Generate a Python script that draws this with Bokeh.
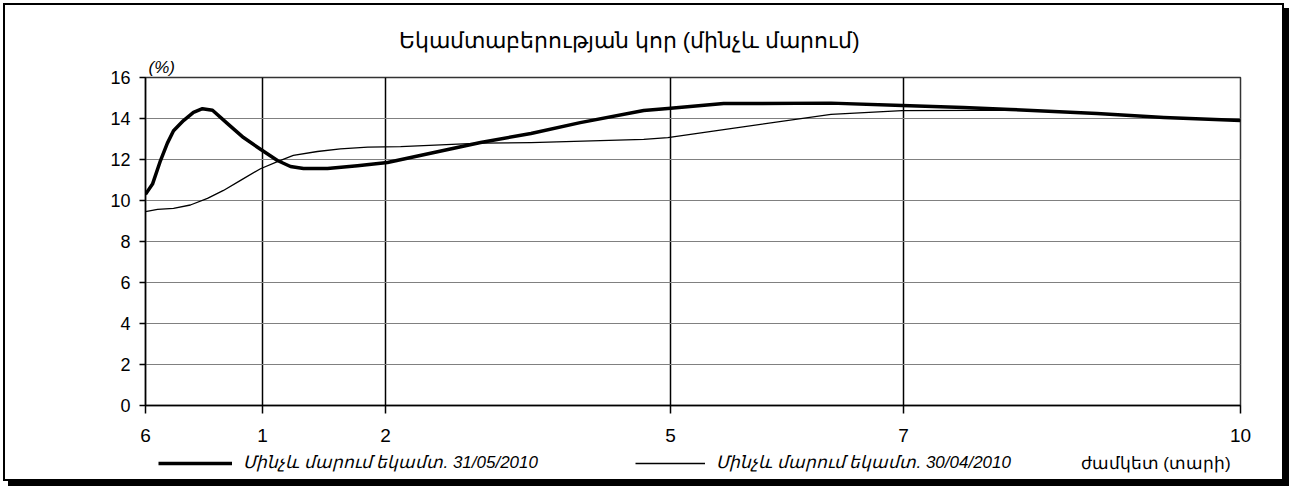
from bokeh.plotting import figure
from bokeh.layouts import column
from bokeh.models import Range1d, FixedTicker, Legend, LegendItem, Title, Label
from bokeh.embed import file_html
from bokeh.resources import INLINE

# ---- data ----
TITLE = "Եկամտաբերության կոր (մինչև մարում)"
Y_UNIT = "(%)"
X_TITLE = "ժամկետ (տարի)"
TICK_POS = [0, 10.68, 21.92, 47.95, 69.22, 100]
TICK_LABELS = ["6", "1", "2", "5", "7", "10"]
Y_TICKS = [0, 2, 4, 6, 8, 10, 12, 14, 16]

NAME_A = "Մինչև մարում եկամտ. 31/05/2010"
A_X = [0, 0.64, 1.37, 2.0, 2.56, 3.47, 4.38, 5.2, 6.12, 7.49, 8.95, 10.5, 12.05,
       13.24, 14.43, 16.62, 19.36, 22.1, 30.6, 35.2, 39.7, 45.5, 47.7, 52.8,
       62.6, 69.1, 74.7, 79.0, 86.9, 93.0, 100]
A_Y = [10.3, 10.8, 11.95, 12.8, 13.4, 13.9, 14.3, 14.48, 14.4, 13.75, 13.07, 12.5,
       11.95, 11.66, 11.56, 11.56, 11.7, 11.85, 12.83, 13.27, 13.8, 14.39, 14.49,
       14.73, 14.75, 14.63, 14.54, 14.44, 14.24, 14.05, 13.9]

NAME_B = "Մինչև մարում եկամտ. 30/04/2010"
B_X = [0, 1.1, 2.56, 4.1, 5.66, 7.12, 8.68, 10.5, 12.05, 13.5, 15.7, 17.8, 20.3,
       23.3, 30.6, 35.2, 45.5, 47.7, 52.8, 62.6, 69.1, 76.0, 80.8, 86.9, 93.0, 100]
B_Y = [9.46, 9.57, 9.62, 9.78, 10.1, 10.49, 10.98, 11.55, 11.9, 12.2, 12.39, 12.52,
       12.6, 12.63, 12.8, 12.82, 12.98, 13.07, 13.46, 14.2, 14.38, 14.4, 14.4,
       14.24, 14.05, 13.9]

FONT = "Liberation Sans"
W = 1277
MAIN_H = 445
LEG_H = 29
NAN = float("nan")

# ---------------- main chart ----------------
p = figure(width=W, height=MAIN_H, output_backend="svg", toolbar_location=None,
           x_range=Range1d(0, 100), y_range=Range1d(0, 16),
           min_border_left=140, min_border_right=42, min_border_top=72,
           min_border_bottom=45)
p.background_fill_color = "white"
p.border_fill_color = "white"
p.outline_line_color = "#333333"
p.outline_line_width = 1.5

p.title.text = TITLE
p.title.align = "left"
p.title.offset = 253
p.title.text_font = FONT
p.title.text_font_size = "22px"
p.title.text_font_style = "normal"
p.title.text_color = "black"
p.title.standoff = 4
p.add_layout(Title(text=Y_UNIT, align="left", offset=3, text_font=FONT,
                   text_font_size="17px", text_font_style="italic",
                   text_color="black", standoff=2),
             "above")

p.xaxis.ticker = FixedTicker(ticks=TICK_POS)
p.xaxis.major_label_overrides = {k: v for k, v in zip(TICK_POS, TICK_LABELS)}
p.yaxis.ticker = FixedTicker(ticks=Y_TICKS)
for ax in (p.xaxis, p.yaxis):
    ax.axis_line_color = "black"
    ax.axis_line_width = 1.5
    ax.major_tick_line_color = "black"
    ax.major_tick_line_width = 1.5
    ax.major_tick_in = 0
    ax.minor_tick_line_color = None
    ax.major_label_text_font = FONT
    ax.major_label_text_color = "black"
p.xaxis.major_label_text_font_size = "19px"
p.yaxis.major_label_text_font_size = "18px"
p.xaxis.major_tick_out = 8
p.xaxis.major_label_standoff = 15
p.yaxis.major_tick_out = 6
p.yaxis.major_label_standoff = 9

p.xgrid.ticker = FixedTicker(ticks=TICK_POS)
p.xgrid.grid_line_color = "black"
p.xgrid.grid_line_width = 1.5
p.ygrid.ticker = FixedTicker(ticks=Y_TICKS)
p.ygrid.grid_line_color = "#808080"
p.ygrid.grid_line_width = 1.2

p.line(A_X, A_Y, line_color="black", line_width=3.5, line_join="round")
p.line(B_X, B_Y, line_color="black", line_width=1.3, line_join="round")

# ---------------- legend strip (frame aligned with the chart's frame) ----------------
q = figure(width=W, height=LEG_H, output_backend="svg", toolbar_location=None,
           x_range=Range1d(0, 100), y_range=Range1d(0, LEG_H),
           x_axis_location=None, y_axis_location=None,
           min_border=0, min_border_left=0, min_border_right=0,
           min_border_top=0, min_border_bottom=0)
q.grid.visible = False
q.outline_line_color = None
q.background_fill_color = "white"
q.border_fill_color = "white"
# legend keys only (a single NaN point draws nothing in the strip)
la = q.line([NAN], [NAN], line_color="black", line_width=3.5)
lb = q.line([NAN], [NAN], line_color="black", line_width=1.3)

def mk_legend(item, loc, gw):
    return Legend(items=[item], location=loc, orientation="horizontal",
                  padding=0, margin=0, spacing=0, glyph_width=gw, glyph_height=20,
                  label_height=20, label_standoff=11, border_line_color=None,
                  background_fill_alpha=0, label_text_font=FONT,
                  label_text_font_style="italic", label_text_font_size="17px",
                  label_text_color="black")

q.add_layout(mk_legend(LegendItem(label=NAME_A, renderers=[la]), (13, 6), 74))
q.add_layout(mk_legend(LegendItem(label=NAME_B, renderers=[lb]), (490, 6), 70))
q.add_layout(Label(x=92.24, y=16, text=X_TITLE, text_align="center",
                   text_baseline="middle", text_font=FONT, text_font_size="17px",
                   text_color="black"))

layout = column(p, q, spacing=0,
                styles={"margin": "3px 0 0 3px", "border": "2px solid #000",
                        "box-shadow": "5px 5px 0 0 #000",
                        "background-color": "white"})

open("out.html", "w").write(file_html(layout, INLINE))
